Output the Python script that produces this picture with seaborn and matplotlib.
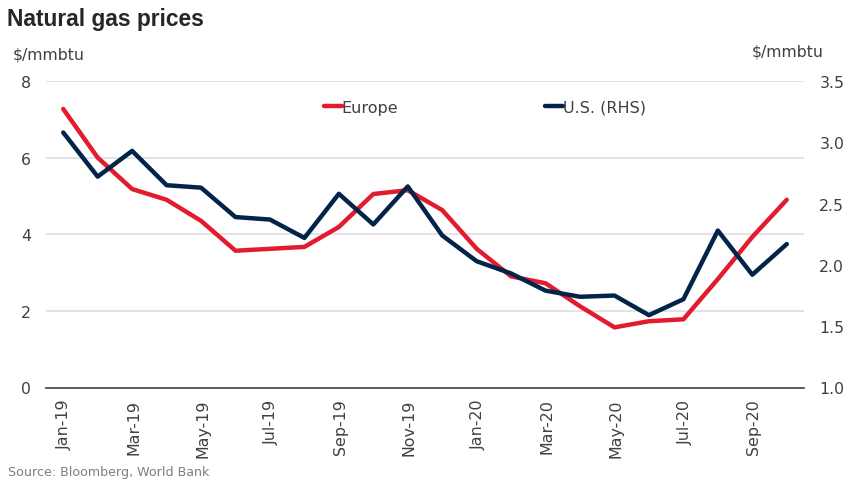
import matplotlib
matplotlib.use("Agg")
import matplotlib.pyplot as plt
import matplotlib.transforms as mtrans
import pandas as pd
import seaborn as sns
from matplotlib.lines import Line2D

months = ["Jan-19", "Feb-19", "Mar-19", "Apr-19", "May-19", "Jun-19", "Jul-19", "Aug-19",
          "Sep-19", "Oct-19", "Nov-19", "Dec-19", "Jan-20", "Feb-20", "Mar-20", "Apr-20",
          "May-20", "Jun-20", "Jul-20", "Aug-20", "Sep-20", "Oct-20"]
europe = [7.27, 6.00, 5.18, 4.90, 4.35, 3.57, 3.62, 3.67, 4.19, 5.05, 5.15, 4.63,
          3.62, 2.90, 2.72, 2.12, 1.57, 1.73, 1.78, 2.83, 3.93, 4.90]
us = [3.08, 2.72, 2.93, 2.65, 2.63, 2.39, 2.37, 2.22, 2.58, 2.33, 2.64, 2.24,
      2.03, 1.93, 1.79, 1.74, 1.75, 1.59, 1.72, 2.28, 1.92, 2.17]
left_ticks = [0, 2, 4, 6, 8]
right_ticks = [1.0, 1.5, 2.0, 2.5, 3.0, 3.5]

RED = "#E31B2F"
NAVY = "#03244A"
TEXT = "#404040"
GRID = "#DEDEDE"

sns.set_theme(style="white")
plt.rcParams["font.family"] = ["DejaVu Sans"]

df = pd.DataFrame({"month": months, "europe": europe, "us": us})

fig, ax = plt.subplots(figsize=(8.5, 4.85), dpi=100)
fig.subplots_adjust(left=46 / 850, right=804 / 850, top=1 - 82 / 485, bottom=1 - 388.5 / 485)

sns.lineplot(data=df, x="month", y="europe", ax=ax, color=RED, linewidth=3.2, sort=False)
ax.set_xlim(-0.5, 21.5)
ax.set_ylim(0, 8)
ax.set_yticks(left_ticks)
ax.set_xticks(range(0, len(months), 2))
ax.set_xticklabels(months[::2], rotation=90)
ax.set_xlabel("")
ax.set_ylabel("")
ax.yaxis.grid(True, color=GRID, linewidth=1.2)
ax.set_axisbelow(True)
ax.tick_params(axis="y", length=0, pad=11, labelsize=11.3, labelcolor=TEXT)
ax.tick_params(axis="x", length=0, pad=8, labelsize=11.4, labelcolor=TEXT)
for side in ["top", "left", "right"]:
    ax.spines[side].set_visible(False)
ax.spines["bottom"].set_color("#404040")
ax.spines["bottom"].set_linewidth(1.2)

# nudge the rotated labels right, they sit slightly off the tick
nudge = mtrans.ScaledTranslation(1.5 / 100, 0, fig.dpi_scale_trans)
for label in ax.get_xticklabels():
    label.set_transform(label.get_transform() + nudge)

ax2 = ax.twinx()
sns.lineplot(data=df, x="month", y="us", ax=ax2, color=NAVY, linewidth=3.2, sort=False)
ax2.set_ylim(1, 3.5)
ax2.set_yticks(right_ticks)
ax2.set_yticklabels([f"{t:.1f}" for t in right_ticks])
ax2.set_ylabel("")
ax2.tick_params(axis="y", length=0, pad=11, labelsize=11.3, labelcolor=TEXT)
for side in ["top", "left", "right", "bottom"]:
    ax2.spines[side].set_visible(False)

handles = [Line2D([], [], color=RED, linewidth=3.2, solid_capstyle="round"),
           Line2D([], [], color=NAVY, linewidth=3.2, solid_capstyle="round")]
leg = ax2.legend(handles, ["Europe", "U.S. (RHS)"], ncol=2, frameon=False, fontsize=11.5,
                 handlelength=1.1, handletextpad=0.0, columnspacing=9.2,
                 loc="center left", bbox_to_anchor=(278 / 758, 0.915), borderaxespad=0, borderpad=0)
for label in leg.get_texts():
    label.set_color(TEXT)

fig.text(7 / 850, 1 - 19.5 / 485, "Natural gas prices", family="Liberation Sans", fontsize=16.4,
         fontweight="bold", color="#262626", va="center", ha="left")
fig.text(13 / 850, 1 - 54.5 / 485, "$/mmbtu", fontsize=11.3, color=TEXT, va="center", ha="left")
fig.text(752 / 850, 1 - 52 / 485, "$/mmbtu", fontsize=11.3, color=TEXT, va="center", ha="left")
fig.text(8 / 850, 1 - 472.5 / 485, "Source: Bloomberg, World Bank", fontsize=9.05, color="#7F7F7F",
         va="center", ha="left")

fig.savefig("out.png", dpi=100)
